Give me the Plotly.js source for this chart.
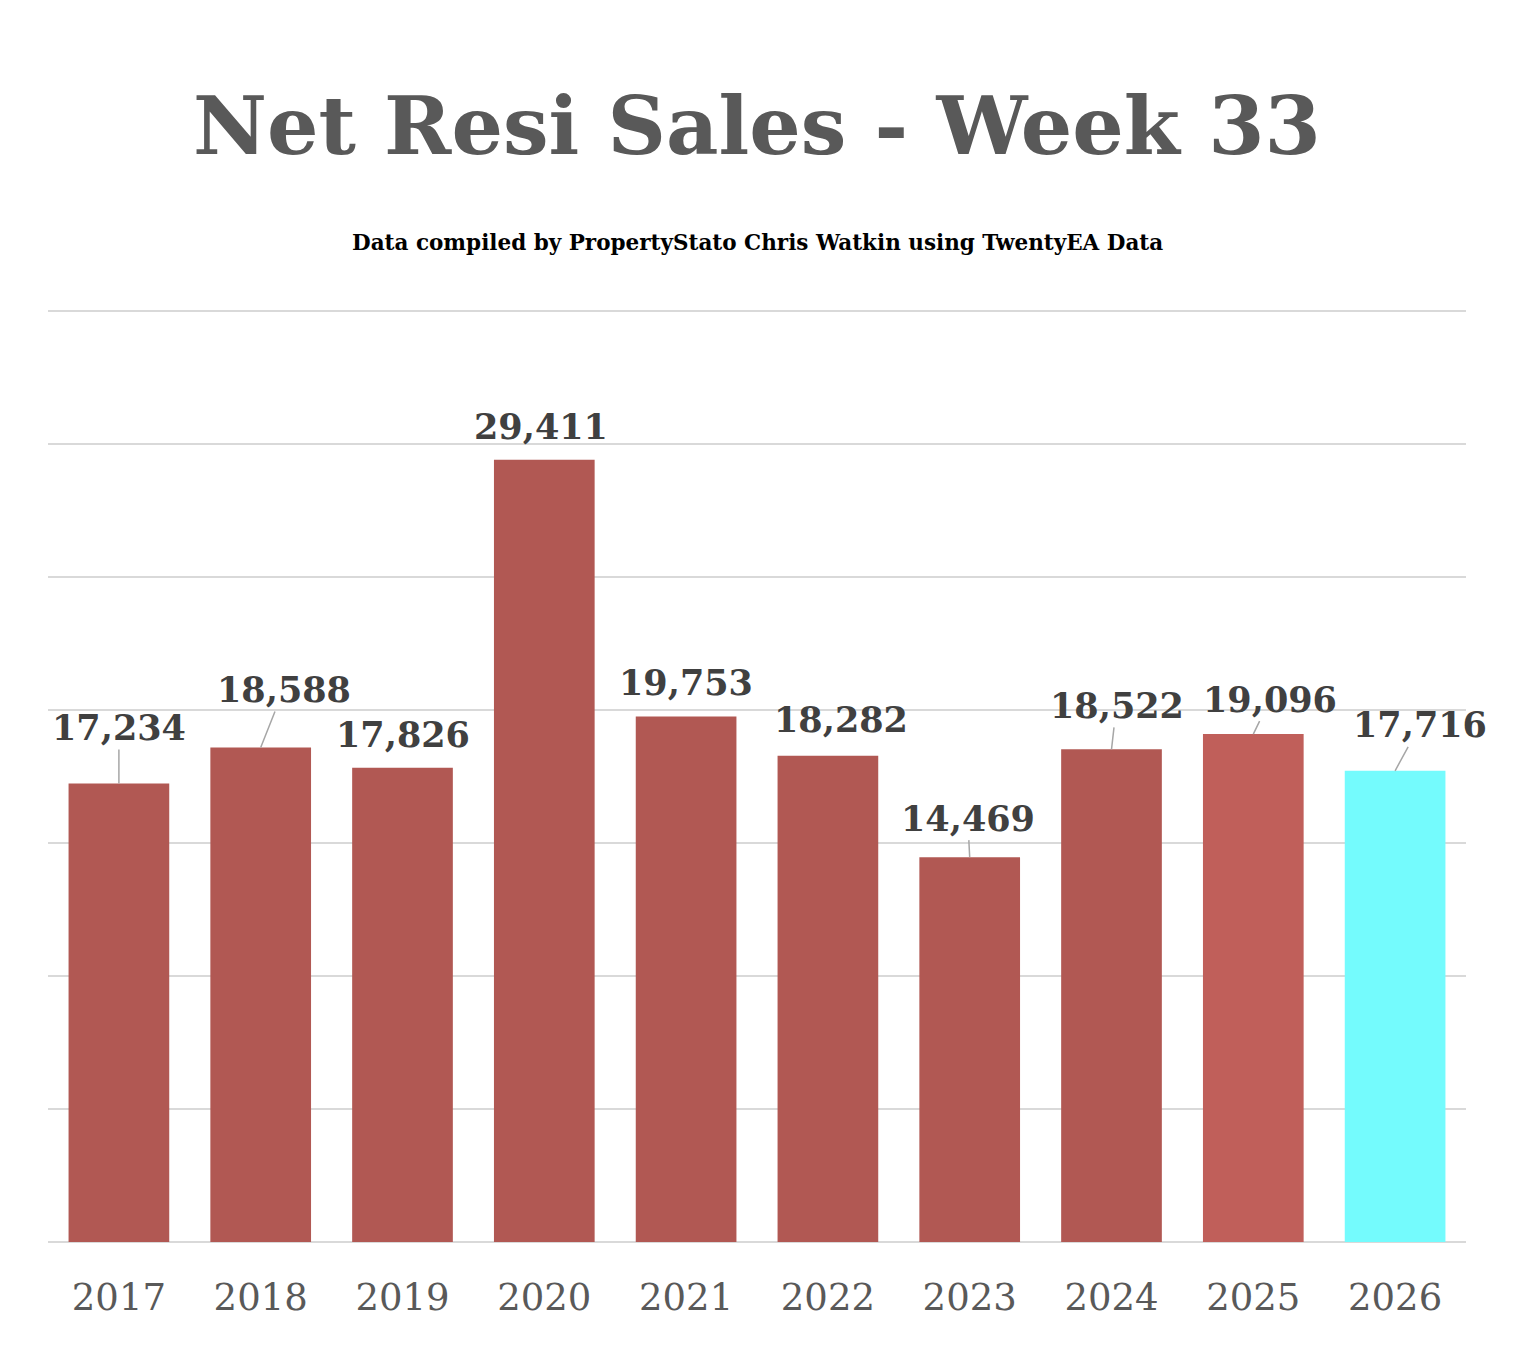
<!DOCTYPE html>
<html>
<head>
<meta charset="utf-8">
<script src="https://cdn.plot.ly/plotly-3.0.1.min.js"></script>
<style>
  body { margin: 0; background: #fff; }
  #chart { width: 1526px; height: 1348px; }
</style>
</head>
<body>
<div id="chart"></div>
<script>
// chart data
var years = ['2017', '2018', '2019', '2020', '2021', '2022', '2023', '2024', '2025', '2026'];
var sales = [17234, 18588, 17826, 29411, 19753, 18282, 14469, 18522, 19096, 17716];
var barColors = ['#b15853', '#b15853', '#b15853', '#b15853', '#b15853',
                 '#b15853', '#b15853', '#b15853', '#c05f5a', '#74fbfd'];

// label offsets (px) from bar top, to mimic the leader lines
var labelDx = [0, 23, 0, -3, 0, 13, -2, 5, 17, 25];
var labelDy = [-56, -58, -33, -33, -34, -36, -39, -44, -35, -46];
var showLeader = [true, true, false, false, false, false, true, true, true, true];

var SLAB = '"DejaVu Serif", "Liberation Serif", serif';

var trace = {
  type: 'bar',
  x: years,
  y: sales,
  marker: { color: barColors, line: { width: 0 } },
  hoverinfo: 'x+y'
};

var annotations = [];
for (var i = 0; i < years.length; i++) {
  // category axis: numeric-looking names would be read as indices, so use the index
  annotations.push({
    x: i,
    y: sales[i],
    xref: 'x',
    yref: 'y',
    text: sales[i].toLocaleString('en-US'),
    showarrow: true,
    arrowhead: 0,
    arrowwidth: 1.5,
    arrowcolor: showLeader[i] ? '#a6a6a6' : 'rgba(0,0,0,0)',
    ax: labelDx[i],
    ay: labelDy[i],
    font: { family: SLAB, size: 35, color: '#404040', weight: 'bold' }
  });
}

// subtitle
annotations.push({
  xref: 'paper',
  yref: 'paper',
  x: 0.5,
  y: 1.072,
  yanchor: 'middle',
  showarrow: false,
  text: 'Data compiled by PropertyStato Chris Watkin using TwentyEA Data',
  font: { family: SLAB, size: 21.5, color: '#000000', weight: 'bold' }
});

var layout = {
  width: 1526,
  height: 1348,
  paper_bgcolor: '#ffffff',
  plot_bgcolor: '#ffffff',
  title: {
    text: 'Net Resi Sales - Week 33',
    x: 0.496,
    xanchor: 'center',
    y: 0.907,
    yanchor: 'middle',
    font: { family: SLAB, size: 81, color: '#595959', weight: 'bold' }
  },
  margin: { l: 48, r: 60, t: 310, b: 106, pad: 0 },
  bargap: 0.29,
  showlegend: false,
  xaxis: {
    type: 'category',
    range: [-0.5, 9.5],
    showgrid: false,
    showline: false,
    ticks: '',
    tickfont: { family: SLAB, size: 37, color: '#595959' },
    ticklabelstandoff: 30
  },
  yaxis: {
    range: [0, 35040],
    dtick: 5000,
    showgrid: true,
    gridcolor: '#d9d9d9',
    gridwidth: 2,
    zeroline: true,
    zerolinecolor: '#d9d9d9',
    zerolinewidth: 2,
    showticklabels: false,
    ticks: ''
  },
  annotations: annotations
};

Plotly.newPlot('chart', [trace], layout, { displayModeBar: false, staticPlot: true });
</script>
</body>
</html>
